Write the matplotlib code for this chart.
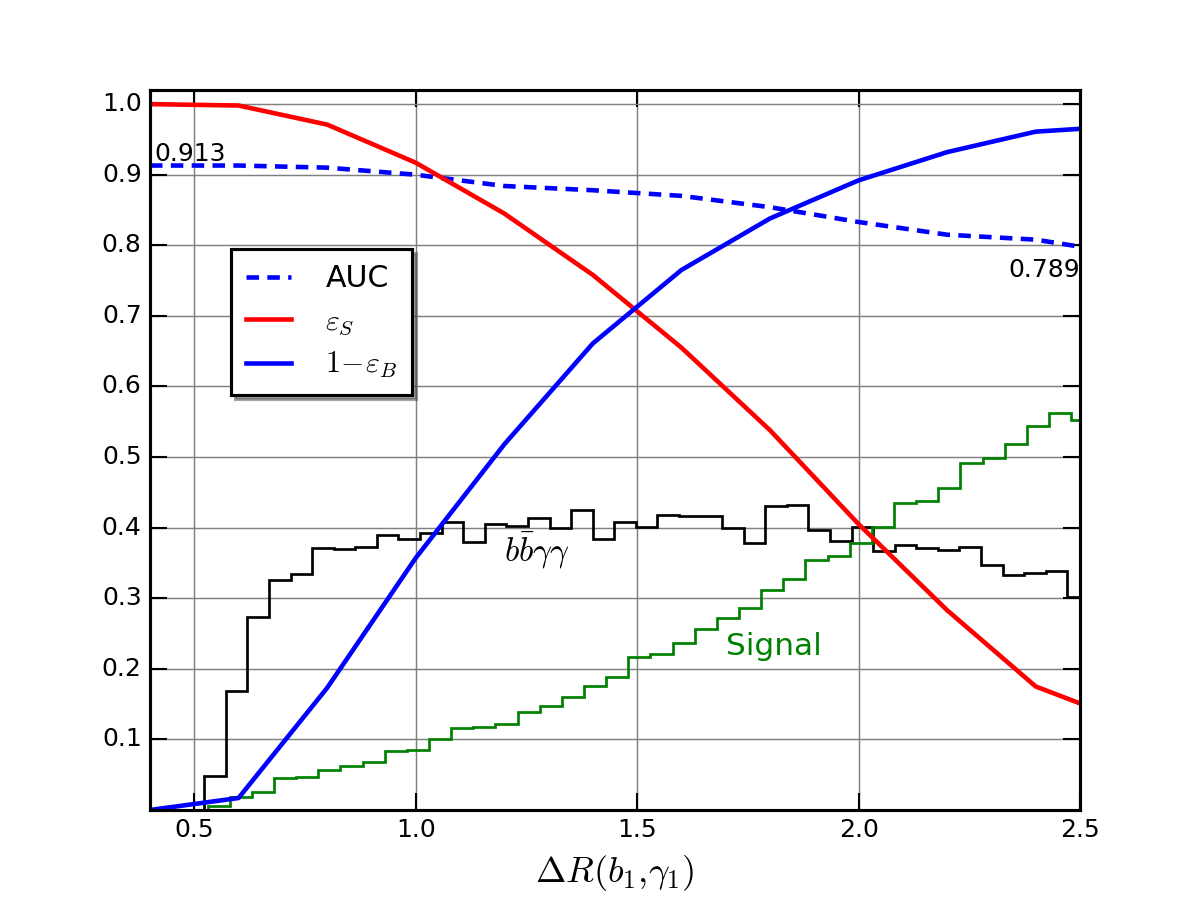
import numpy as np
import matplotlib
matplotlib.use("Agg")
import matplotlib.pyplot as plt

plt.style.use("classic")

# --- curve data ---
dr_cut = [0.4, 0.6, 0.8, 1.0, 1.2, 1.4, 1.6, 1.8, 2.0, 2.2, 2.4, 2.5]
auc = [0.913, 0.913, 0.910, 0.900, 0.884, 0.878, 0.870, 0.854, 0.833, 0.815, 0.808, 0.798]
eps_s = [1.000, 0.998, 0.971, 0.917, 0.845, 0.758, 0.655, 0.538, 0.405, 0.283, 0.175, 0.151]
one_minus_eps_b = [0.000, 0.017, 0.173, 0.357, 0.518, 0.661, 0.765, 0.838, 0.892, 0.932, 0.961, 0.965]

# --- histogram data ---
bkg_start, bkg_width = 0.5226, 0.04872
bkg_vals = [0.048, 0.169, 0.273, 0.326, 0.334, 0.371, 0.370, 0.372, 0.390, 0.384,
            0.392, 0.408, 0.380, 0.405, 0.402, 0.414, 0.399, 0.425, 0.384, 0.408,
            0.401, 0.418, 0.416, 0.417, 0.400, 0.378, 0.430, 0.432, 0.397, 0.381,
            0.401, 0.367, 0.376, 0.371, 0.368, 0.373, 0.347, 0.333, 0.336, 0.338,
            0.302]
sig_start, sig_width = 0.530, 0.05
sig_vals = [0.006, 0.019, 0.025, 0.045, 0.047, 0.057, 0.063, 0.068, 0.083, 0.085,
            0.100, 0.116, 0.117, 0.122, 0.139, 0.148, 0.160, 0.176, 0.188, 0.217,
            0.221, 0.237, 0.257, 0.272, 0.286, 0.312, 0.327, 0.354, 0.360, 0.378,
            0.401, 0.435, 0.438, 0.456, 0.491, 0.498, 0.519, 0.544, 0.563, 0.552]

bkg_edges = bkg_start + bkg_width * np.arange(len(bkg_vals) + 1)
sig_edges = sig_start + sig_width * np.arange(len(sig_vals) + 1)

fig = plt.figure(figsize=(8, 6), dpi=150, facecolor="white")
ax = fig.add_axes([0.125, 0.1, 0.775, 0.8])

ax.grid(True, color="0.5", linestyle="-", linewidth=0.7)
ax.set_axisbelow(True)

ax.hist(bkg_edges[:-1], bins=bkg_edges, weights=bkg_vals, histtype="step",
        color="black", linewidth=1.3)
ax.hist(sig_edges[:-1], bins=sig_edges, weights=sig_vals, histtype="step",
        color="green", linewidth=1.3)

ax.plot(dr_cut, auc, color="blue", linestyle="--", dashes=(6, 4), linewidth=2.2, label="AUC")
ax.plot(dr_cut, eps_s, color="red", linewidth=2.2, label=r"$\varepsilon_S$")
ax.plot(dr_cut, one_minus_eps_b, color="blue", linewidth=2.2, label=r"$1\!-\!\varepsilon_B$")

ax.text(0.411, 0.919, "0.913", fontsize=12, ha="left", va="baseline")
ax.text(2.5, 0.7557, "0.789", fontsize=12, ha="right", va="baseline")
ax.text(1.70, 0.220, "Signal", fontsize=15, color="green", ha="left", va="baseline")
ax.text(1.20, 0.352, r"$b\bar{b}\gamma\gamma$", fontsize=16, ha="left", va="baseline")

ax.set_xlim(0.4, 2.5)
ax.set_ylim(0, 1.02)
ax.set_xticks([0.5, 1.0, 1.5, 2.0, 2.5])
ax.set_yticks([0.1, 0.2, 0.3, 0.4, 0.5, 0.6, 0.7, 0.8, 0.9, 1.0])
ax.tick_params(labelsize=12, direction="in", length=8, width=1)
for s in ax.spines.values():
    s.set_linewidth(1.5)

ax.set_xlabel(r"$\Delta R(b_1{,}\gamma_1)$", fontsize=17.5)

leg = ax.legend(loc="upper left", bbox_to_anchor=(0.087, 0.779), borderaxespad=0,
                shadow=True, fancybox=False, fontsize=14.4, handlelength=1.5,
                handletextpad=1.15, borderpad=0.5, labelspacing=0.45, numpoints=1)
leg.get_frame().set_linewidth(1.5)

fig.savefig("out.png", dpi=150, facecolor="white")
